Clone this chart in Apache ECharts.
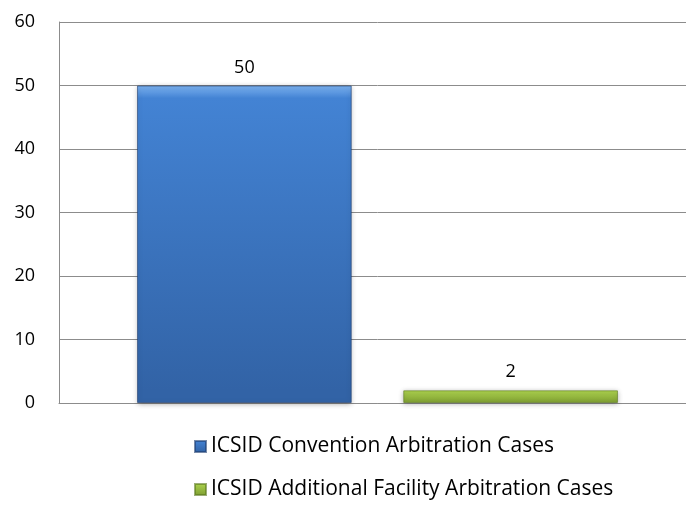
<!DOCTYPE html>
<html>
<head>
<meta charset="utf-8">
<script src="https://cdn.jsdelivr.net/npm/echarts@6/dist/echarts.min.js"></script>
<style>
html,body{margin:0;padding:0;background:#fff;overflow:hidden;}
#c{width:696px;height:531px;}
</style>
</head>
<body>
<div id="c"></div>
<script>
const categories = [''];
const seriesNames = ['ICSID Convention Arbitration Cases', 'ICSID Additional Facility Arbitration Cases'];
const conventionCases = [50];
const additionalFacilityCases = [2];
const yTicks = [0, 10, 20, 30, 40, 50, 60];

const FONT = 'Open Sans';
const chart = echarts.init(document.getElementById('c'));

function grad(top, mid, bottom) {
  return new echarts.graphic.LinearGradient(0, 0, 0, 1, [
    {offset: 0, color: top},
    {offset: 0.04, color: mid},
    {offset: 0.96, color: bottom},
    {offset: 1, color: bottom}
  ]);
}

chart.setOption({
  animation: false,
  backgroundColor: '#ffffff',
  textStyle: {fontFamily: FONT},
  grid: {left: 59, right: 0, top: 22, bottom: 128, containLabel: false},
  xAxis: {
    type: 'category',
    data: categories,
    axisLine: {show: true, lineStyle: {color: '#8c8c8c', width: 1}},
    axisTick: {show: false},
    axisLabel: {show: false}
  },
  yAxis: {
    type: 'value',
    min: yTicks[0],
    max: yTicks[yTicks.length - 1],
    interval: 10,
    axisLine: {show: true, lineStyle: {color: '#8c8c8c', width: 1}},
    axisTick: {show: false},
    splitLine: {show: true, lineStyle: {color: '#8c8c8c', width: 1}},
    axisLabel: {color: '#000', fontSize: 18, fontFamily: FONT, margin: 24}
  },
  legend: {
    orient: 'vertical',
    left: 189,
    top: 431,
    itemWidth: 11,
    itemHeight: 11,
    itemGap: 22,
    icon: 'rect',
    textStyle: {color: '#000', fontSize: 21, fontFamily: FONT, padding: [0, 0, 0, 0]},
    data: seriesNames
  },
  series: [
    {
      name: seriesNames[0],
      type: 'bar',
      data: conventionCases,
      barGap: '24%',
      barCategoryGap: '24.5%',
      itemStyle: {
        color: grad('#7cb2f0', '#4383d4', '#3263a6'),
        borderColor: 'rgba(30,60,110,0.6)',
        borderWidth: 1,
        shadowBlur: 5,
        shadowColor: 'rgba(0,0,0,0.3)',
        shadowOffsetY: 1
      },
      label: {show: true, position: 'top', distance: 9, color: '#000', fontSize: 18, fontFamily: FONT}
    },
    {
      name: seriesNames[1],
      type: 'bar',
      data: additionalFacilityCases,
      itemStyle: {
        color: grad('#dcf296', '#acd24e', '#7f9f32'),
        borderColor: 'rgba(90,120,30,0.6)',
        borderWidth: 1,
        shadowBlur: 5,
        shadowColor: 'rgba(0,0,0,0.3)',
        shadowOffsetY: 1
      },
      label: {show: true, position: 'top', distance: 9, color: '#000', fontSize: 18, fontFamily: FONT}
    }
  ]
});
</script>
</body>
</html>
